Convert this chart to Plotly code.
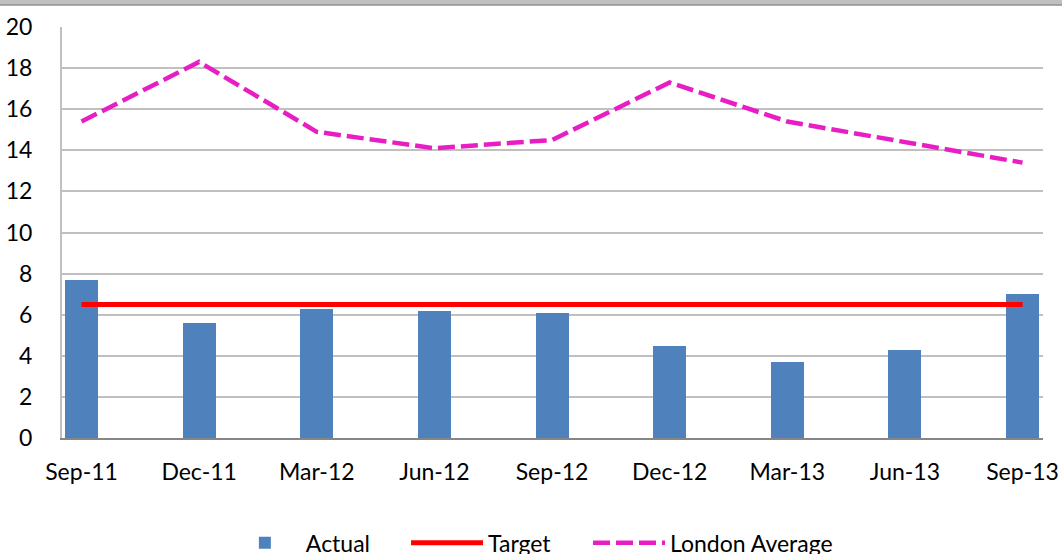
import plotly.graph_objects as go

categories = ["Sep-11", "Dec-11", "Mar-12", "Jun-12", "Sep-12", "Dec-12", "Mar-13", "Jun-13", "Sep-13"]
actual = [7.7, 5.6, 6.3, 6.2, 6.1, 4.5, 3.7, 4.3, 7.0]
target = [6.5, 6.5, 6.5, 6.5, 6.5, 6.5, 6.5, 6.5, 6.5]
london_average = [15.4, 18.3, 14.9, 14.1, 14.5, 17.3, 15.4, 14.4, 13.4]
y_ticks = [0, 2, 4, 6, 8, 10, 12, 14, 16, 18, 20]

xpos = list(range(len(categories)))
FONT = "Lato"

fig = go.Figure()
fig.add_trace(go.Bar(x=xpos, y=actual, name="Actual", width=0.28, legend="legend",
                     marker=dict(color="#4F81BD", line=dict(width=0))))
fig.add_trace(go.Scatter(x=xpos, y=target, name="Target", mode="lines", legend="legend2",
                         line=dict(color="#FF0000", width=5)))
fig.add_trace(go.Scatter(x=xpos, y=london_average, name="London Average", mode="lines",
                         legend="legend3",
                         line=dict(color="#E81EC4", width=4.5, dash="17px,6px")))

leg_common = dict(orientation="h", xanchor="left", y=-0.255, yanchor="middle",
                  font=dict(size=23), itemwidth=72, bgcolor="rgba(0,0,0,0)")

fig.update_layout(
    width=1062, height=554,
    margin=dict(l=62, r=19, t=27, b=116, autoexpand=False),
    paper_bgcolor="white", plot_bgcolor="white",
    font=dict(family=FONT, size=23, color="black"),
    showlegend=True,
    legend=dict(x=0.165, **leg_common),
    legend2=dict(x=0.3507, **leg_common),
    legend3=dict(x=0.5362, **leg_common),
    bargap=0,
)
fig.update_xaxes(
    tickmode="array", tickvals=xpos, ticktext=categories,
    range=[-0.166, 8.174], automargin=False,
    showgrid=False, showline=True, linecolor="#868686", linewidth=2,
    ticks="outside", ticklen=12, tickcolor="rgba(0,0,0,0)",
    zeroline=False,
)
fig.update_yaxes(
    tickmode="array", tickvals=y_ticks,
    range=[0, 20], automargin=False,
    showgrid=True, gridcolor="#C0C0C0", gridwidth=2,
    showline=True, linecolor="#C0C0C0", linewidth=2,
    ticks="outside", ticklen=23, tickcolor="rgba(0,0,0,0)",
    zeroline=False,
)
# top grey band (cropped header)
fig.add_shape(type="rect", xref="paper", yref="paper", x0=-0.1, x1=1.1, y0=1.0535, y1=1.08,
              fillcolor="#C0C0C0", line=dict(width=0), layer="above")
fig.add_shape(type="line", xref="paper", yref="paper", x0=-0.1, x1=1.1, y0=1.0535, y1=1.0535,
              line=dict(color="#909090", width=1.5), layer="above")

fig.write_html("out.html", config={"displayModeBar": False},
               post_script="document.body.style.margin='0';")
